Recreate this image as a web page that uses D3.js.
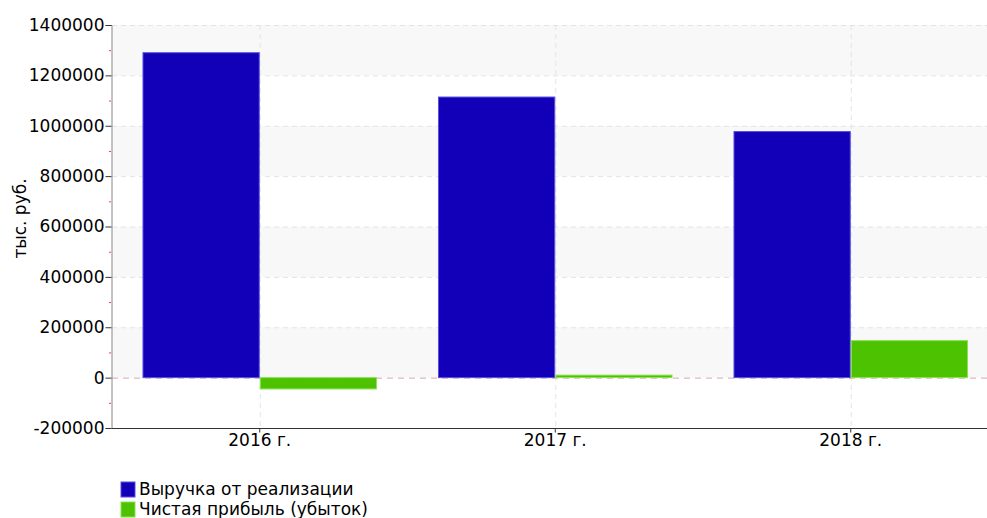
<!DOCTYPE html>
<html>
<head>
<meta charset="utf-8">
<script src="https://cdn.jsdelivr.net/npm/d3@7"></script>
<style>
  body { margin: 0; background: #fff; }
  text { font-family: "DejaVu Sans", Verdana, sans-serif; }
</style>
</head>
<body>
<div id="chart"></div>
<script>
var years = ["2016 г.", "2017 г.", "2018 г."];
var seriesNames = ["Выручка от реализации", "Чистая прибыль (убыток)"];
var revenue = [1290000, 1114000, 977000];
var profit = [-45000, 10000, 147000];
var yTicks = [-200000, 0, 200000, 400000, 600000, 800000, 1000000, 1200000, 1400000];
var colors = ["#1100b8", "#4cc200"];
var strokes = ["#5a4ee0", "#8ee05a"];

var width = 987;
var height = 518;
var plotLeft = 112, plotTop = 25, plotBottom = 428;

var svg = d3.select("#chart").append("svg")
    .attr("width", width)
    .attr("height", height);

var y = d3.scaleLinear().domain([-200000, 1400000]).range([plotBottom, plotTop]);
var x = d3.scaleBand().domain(years).range([plotLeft, plotLeft + 3 * 295.5]).paddingInner(0).paddingOuter(0);
var xs = d3.scaleBand().domain([0, 1]).range([0, x.bandwidth()]).paddingOuter(0.26).paddingInner(0);

// alternating bands
var bands = yTicks.slice(0, -1);
svg.selectAll(".band").data(bands).enter().append("rect")
    .attr("x", plotLeft)
    .attr("width", width - plotLeft)
    .attr("y", function(d) { return y(d + 200000); })
    .attr("height", function(d) { return y(d) - y(d + 200000); })
    .attr("fill", function(d, i) { return (i % 2 == 1) ? "#f8f8f8" : "#fff"; });

// grid lines
svg.selectAll(".hgrid").data(yTicks.filter(function(d) { return d != 0; })).enter().append("line")
    .attr("x1", plotLeft).attr("x2", width)
    .attr("y1", function(d) { return y(d) + .5; })
    .attr("y2", function(d) { return y(d) + .5; })
    .attr("stroke", "#e4e4e4")
    .attr("stroke-dasharray", "5,4");

svg.selectAll(".vgrid").data(years).enter().append("line")
    .attr("x1", function(d) { return x(d) + x.bandwidth() / 2 + .5; })
    .attr("x2", function(d) { return x(d) + x.bandwidth() / 2 + .5; })
    .attr("y1", plotTop).attr("y2", plotBottom)
    .attr("stroke", "#e4e4e4")
    .attr("stroke-dasharray", "5,4");

// zero line
svg.append("line")
    .attr("x1", plotLeft).attr("x2", width)
    .attr("y1", y(0) + .5).attr("y2", y(0) + .5)
    .attr("stroke", "#d8a8a8")
    .attr("stroke-dasharray", "6,5");

// bars
var series = [revenue, profit];
series.forEach(function(vals, s) {
  svg.selectAll(".bar" + s).data(vals).enter().append("rect")
      .attr("x", function(d, i) { return x(years[i]) + xs(s) + .5; })
      .attr("width", xs.bandwidth() - 1)
      .attr("y", function(d) { return y(Math.max(0, d)); })
      .attr("height", function(d) { return Math.abs(y(d) - y(0)); })
      .attr("fill", colors[s])
      .attr("stroke", strokes[s])
      .attr("stroke-width", 1);
});

// y axis
var yAxis = d3.axisLeft(y).tickValues(yTicks).tickSize(6).tickFormat(function(d) { return String(d); });
var gy = svg.append("g").attr("transform", "translate(" + (plotLeft - .5) + ",0)").call(yAxis);
gy.select(".domain").attr("stroke", "#888");
gy.selectAll(".tick line").attr("stroke", "#333");
gy.selectAll(".tick text").attr("font-size", "17px").attr("fill", "#000")
    .attr("x", -7).attr("font-family", "DejaVu Sans, Verdana, sans-serif");

// minor red ticks
var minor = yTicks.slice(0, -1).map(function(d) { return d + 100000; });
svg.selectAll(".minor").data(minor).enter().append("line")
    .attr("x1", plotLeft - 3).attr("x2", plotLeft - 1)
    .attr("y1", function(d) { return y(d) + .5; })
    .attr("y2", function(d) { return y(d) + .5; })
    .attr("stroke", "#f04040");

// x axis
var xAxis = d3.axisBottom(x).tickSize(4).tickSizeOuter(0);
var gx = svg.append("g").attr("transform", "translate(0," + (plotBottom + .5) + ")").call(xAxis);
gx.select(".domain").attr("stroke", "#333").attr("d", "M" + plotLeft + ",0H" + width);
gx.selectAll(".tick line").attr("stroke", "#333");
gx.selectAll(".tick text").attr("font-size", "17px").attr("fill", "#000")
    .attr("y", 5).attr("font-family", "DejaVu Sans, Verdana, sans-serif");

// y label
svg.append("text")
    .attr("transform", "translate(26," + ((plotTop + plotBottom) / 2 - 8) + ") rotate(-90)")
    .attr("text-anchor", "middle")
    .attr("font-size", "17px")
    .text("тыс. руб.");

// legend
var legend = svg.selectAll(".legend").data(seriesNames).enter().append("g")
    .attr("transform", function(d, i) { return "translate(121," + (482 + i * 20) + ")"; });
legend.append("rect")
    .attr("width", 14).attr("height", 15)
    .attr("fill", function(d, i) { return colors[i]; })
    .attr("stroke", function(d, i) { return strokes[i]; });
legend.append("text")
    .attr("x", 18).attr("y", 13)
    .attr("font-size", "17px")
    .text(function(d) { return d; });
</script>
</body>
</html>
